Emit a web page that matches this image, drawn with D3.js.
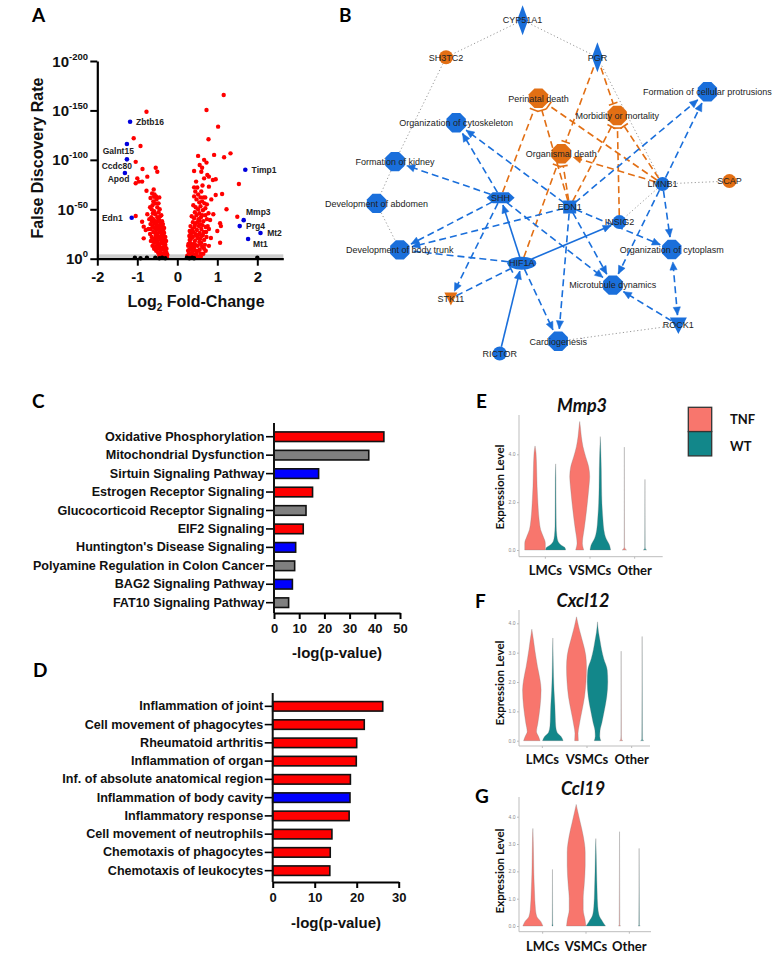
<!DOCTYPE html>
<html><head><meta charset="utf-8">
<script src="https://cdn.jsdelivr.net/npm/d3@7"></script>
<style>body{margin:0;background:#fff}</style>
</head><body><svg id="fig" width="780" height="959" xmlns="http://www.w3.org/2000/svg"></svg>
<script>
// ================= DATA =================
// Panel A: volcano (log2 fold-change, -log10 FDR)
const volcanoRed = [
[-0.77,148.7],[-1.09,121.8],[-0.92,114],[-1.04,98],[-0.87,90.8],[-0.54,92],[-0.50,88],[-0.75,83],[-1.00,81.3],[-0.96,78],[-1.04,76.3],[-0.88,78],[-0.77,68.8],[-0.67,61.4],[-0.58,62.7],[-1.04,43.2],[-0.88,37.4],[-0.84,32.4],[-0.79,29],[-0.84,20.6],[-0.72,30],[-0.70,40],[-0.75,45],[-0.68,52],
[-0.60,58],[-0.55,56],[-0.62,54],[-0.52,60],[-0.57,65],
[-0.64,50],[-0.58,48],[-0.50,52],[-0.47,47],[-0.55,45],[-0.61,46],[-0.44,50],
[-0.65,42],[-0.60,40],[-0.55,38],[-0.50,42],[-0.46,40],[-0.42,37],[-0.58,36],[-0.40,44],[-0.52,35],[-0.45,34],
[-0.66,30],[-0.62,33],[-0.57,31],[-0.52,29],[-0.48,32],[-0.44,27],[-0.40,30],[-0.37,33],[-0.55,26],[-0.60,27],[-0.35,28],[-0.50,25],
[-0.64,22],[-0.58,20],[-0.54,23],[-0.50,18],[-0.46,22],[-0.42,19],[-0.38,24],[-0.34,21],[-0.31,17],[-0.56,16],[-0.47,15],[-0.40,16],[-0.36,15],[-0.60,17],
[-0.55,12],[-0.50,10],[-0.45,13],[-0.42,8],[-0.38,11],[-0.35,9],[-0.32,12],[-0.29,7],[-0.48,6],[-0.40,5],[-0.33,5],[-0.27,10],[-0.30,14],[-0.44,11],
[-0.45,3],[-0.40,2],[-0.36,3],[-0.32,2],[-0.28,3],[-0.26,1.5],[-0.34,1],[-0.38,4],
[-0.44,30],[-0.41,26],[-0.38,28],[-0.36,24],[-0.33,26],[-0.30,22],[-0.28,18],[-0.43,22],[-0.39,20],[-0.35,18],[-0.31,14],[-0.29,11],[-0.27,6],[-0.25,4],[-0.52,20],[-0.49,14],[-0.53,8],[-0.58,10],[-0.62,13],[-0.66,18],[-0.68,25],[-0.48,38],[-0.43,43],[-0.38,38],[-0.36,35],[-0.33,31],[-0.41,34],[-0.54,32],[-0.63,38],[-0.67,35],[-0.47,56],[-0.53,63],[-0.59,70],[-0.63,66],[-0.45,62],
[1.16,165.6],[0.73,150.4],[1.02,133.6],[0.78,120.8],[1.33,106.6],[1.17,102.6],[0.92,105],[0.52,104],[0.67,100],[0.73,97.2],[0.56,94.8],[0.42,88.7],[0.75,84.7],[0.79,83],[0.67,81.3],[0.96,80.3],[0.89,79.6],[1.54,75.6],[0.42,72.2],[0.79,72.9],[1.12,65.5],[0.96,64.5],[0.70,62],[1.23,50],[1.50,42.5],[1.07,35.8],[1.09,33],[0.82,39.2],[0.79,30],[0.84,21],[0.79,13],[1.07,16.2],[0.62,92],[0.60,88],[0.85,60],[0.90,45],[1.00,28],
[0.45,68],[0.52,65],[0.58,62],[0.48,60],[0.62,58],[0.55,57],[0.42,63],
[0.40,54],[0.46,52],[0.52,50],[0.58,53],[0.64,49],[0.70,51],[0.44,47],[0.55,46],
[0.36,43],[0.42,41],[0.48,44],[0.53,40],[0.59,42],[0.65,38],[0.70,44],[0.39,37],[0.47,36],[0.57,35],[0.74,40],
[0.33,33],[0.38,30],[0.43,32],[0.49,29],[0.54,33],[0.60,30],[0.66,27],[0.71,32],[0.35,26],[0.45,25],[0.56,26],[0.63,34],
[0.30,23],[0.34,20],[0.39,22],[0.44,18],[0.50,21],[0.55,17],[0.61,23],[0.67,19],[0.32,16],[0.41,15],[0.47,24],[0.58,15],[0.73,22],
[0.27,13],[0.30,9],[0.34,12],[0.38,7],[0.42,11],[0.46,8],[0.51,13],[0.56,9],[0.62,12],[0.29,5],[0.36,5],[0.48,5],[0.67,10],
[0.25,3],[0.28,2],[0.31,3],[0.35,1.5],[0.39,3],[0.43,2],[0.47,3],[0.53,2],[0.26,1],
[0.28,15],[0.31,19],[0.33,25],[0.37,14],[0.40,27],[0.44,34],[0.50,37],[0.53,24],[0.57,20],[0.60,16],[0.64,24],[0.69,14],[0.72,27],[0.76,33],[0.78,46],[0.68,56],[0.60,68],[0.50,72],[0.47,78],[0.63,74],[0.36,9],[0.40,4],[0.45,14],[0.52,8],[0.58,5],[0.65,5],[0.71,8],[0.31,28],[0.27,8],[0.55,39],[0.62,44],[0.66,62],[0.74,55],[0.59,2]
];
const volcanoBlueGenes = ["Zbtb16","Galnt15","Ccdc80","Apod","Edn1","Timp1","Mmp3","Prg4","Mt2","Mt1"];
const volcanoBlueFC   = [-1.18,-1.26,-1.26,-1.31,-1.14,1.70,1.66,1.56,2.08,1.77];
const volcanoBlueFDR  = [138.6,116,100.5,86.7,41.5,90,39,33,26,20];
const volcanoBlack = [[-1.06,1],[-0.92,0.5],[-0.76,1],[-0.55,1],[-0.45,0.5],[-0.38,1],[-0.30,0.5],[0.24,1],[0.30,0.5],[0.37,1],[0.42,0.5],[2.0,1]];
const volcanoYTicks = [0,50,100,150,200];
const volcanoXTicks = [-2,-1,0,1,2];

// Panel B: network (layout units 0-100)
const netNodes = [
 ["CYP51A1","CYP51A1","diamond","b",41.5,5.6],
 ["SH3TC2","SH3TC2","circle","o",24.1,15.9],
 ["PGR","PGR","diamond","b",58.5,15.9],
 ["Perinatal","Perinatal death","oct","o",45.1,27.3],
 ["Morbidity","Morbidity or mortality","oct","o",63.0,32.1],
 ["Organismal","Organismal death","oct","o",50.3,42.7],
 ["FormProt","Formation of cellular protrusions","oct","b",83.5,25.5],
 ["OrgCyto","Organization of cytoskeleton","oct","b",26.4,34.1],
 ["FormKid","Formation of kidney","oct","b",12.5,44.9],
 ["DevAbd","Development of abdomen","oct","b",8.3,56.5],
 ["DevTrunk","Development of body trunk","oct","b",13.6,69.4],
 ["SHH","SHH","hex","b",36.5,54.9],
 ["EDN1","EDN1","square","b",52.2,57.5],
 ["INSIG2","INSIG2","circle","b",63.5,61.7],
 ["LMNB1","LMNB1","circle","b",73.3,51.1],
 ["SCAP","SCAP","circle","o",88.5,50.3],
 ["OrgCytoplasm","Organization of cytoplasm","oct","b",75.4,69.3],
 ["HIF1A","HIF1A","ellipse","b",41.3,73.1],
 ["Micro","Microtubule dynamics","oct","b",62.0,79.2],
 ["STK11","STK11","tri","o",25.2,82.9],
 ["ROCK1","ROCK1","tribig","b",76.9,90.3],
 ["Cardio","Cardiogenesis","oct","b",49.6,94.8],
 ["RICTOR","RICTOR","circle","b",36.3,98.2]
];
const netEdges = [
 ["CYP51A1","SH3TC2","dot","none"],["CYP51A1","PGR","dot","none"],["SH3TC2","FormKid","dot","none"],
 ["FormKid","DevAbd","dot","none"],["DevAbd","DevTrunk","dot","none"],["PGR","LMNB1","dot","none"],
 ["LMNB1","SCAP","dot","none"],["LMNB1","INSIG2","dot","none"],["ROCK1","Cardio","dot","none"],
 ["PGR","Morbidity","orange","bar"],["PGR","Organismal","orange","bar"],["SHH","Perinatal","orange","bar"],
 ["EDN1","Perinatal","orange","bar"],["EDN1","Organismal","orange","bar"],["EDN1","Morbidity","orange","bar"],
 ["HIF1A","Organismal","orange","bar"],["INSIG2","Morbidity","orange","bar"],["LMNB1","Perinatal","orange","bar"],
 ["LMNB1","Morbidity","orange","bar"],["LMNB1","Organismal","orange","arrow"],
 ["SHH","OrgCyto","dash","arrow"],["EDN1","OrgCyto","dash","arrow"],["SHH","FormKid","dash","arrow"],
 ["SHH","DevTrunk","dash","arrow"],["EDN1","DevTrunk","dash","arrow"],["HIF1A","DevTrunk","dash","none"],
 ["SHH","Micro","dash","arrow"],["SHH","STK11","dash","arrow"],["STK11","HIF1A","dash","bar"],
 ["HIF1A","Cardio","dash","arrow"],["EDN1","Cardio","dash","arrow"],["EDN1","Micro","dash","arrow"],
 ["EDN1","OrgCytoplasm","dash","arrow"],["EDN1","FormProt","dash","arrow"],["LMNB1","FormProt","dash","arrow"],
 ["LMNB1","OrgCytoplasm","dash","arrow"],["LMNB1","Micro","dash","arrow"],["ROCK1","Micro","dash","arrow"],
 ["ROCK1","OrgCytoplasm","dash","both"],
 ["HIF1A","SHH","solid","arrow"],["HIF1A","INSIG2","solid","arrow"],["RICTOR","HIF1A","solid","arrow"]
];

// Panel C: canonical pathways
const cCategories = ["Oxidative Phosphorylation","Mitochondrial Dysfunction","Sirtuin Signaling Pathway","Estrogen Receptor Signaling","Glucocorticoid Receptor Signaling","EIF2 Signaling","Huntington's Disease Signaling","Polyamine Regulation in Colon Cancer","BAG2 Signaling Pathway","FAT10 Signaling Pathway"];
const cValues = [43.6,37.6,17.7,15.3,12.7,11.6,8.6,8.2,7.3,5.8];
const cDirection = ["up","none","down","up","none","up","down","none","down","none"];
const cTicks = [0,10,20,30,40,50];

// Panel D: diseases & functions
const dCategories = ["Inflammation of joint","Cell movement of phagocytes","Rheumatoid arthritis","Inflammation of organ","Inf. of absolute anatomical region","Inflammation of body cavity","Inflammatory response","Cell movement of neutrophils","Chemotaxis of phagocytes","Chemotaxis of leukocytes"];
const dValues = [26.2,21.8,20.0,19.9,18.5,18.4,18.2,14.1,13.7,13.6];
const dDirection = ["up","up","up","up","up","down","up","up","up","up"];
const dTicks = [0,10,20,30];

// Panels E-G: violin plots (expression level, relative density)
const violinCells = ["LMCs","VSMCs","Other"];
const violinConditions = ["TNF","WT"];
const mmp3Violins = [
 {cell:"LMCs",cond:"TNF",prof:[[0,1.0],[0.28,1.0],[0.56,0.8],[0.84,0.55],[1.25,0.4],[1.95,0.28],[2.65,0.2],[3.34,0.16],[4.04,0.1],[4.35,0]]},
 {cell:"LMCs",cond:"WT",prof:[[0,0.97],[0.1,0.9],[0.2,0.55],[0.35,0.25],[0.6,0.12],[1.0,0.06],[2,0.04],[3,0.03],[3.6,0]]},
 {cell:"VSMCs",cond:"TNF",prof:[[0,0.39],[0.28,0.26],[0.5,0.3],[0.84,0.42],[1.25,0.55],[1.95,0.74],[2.65,0.9],[3.07,0.97],[3.48,0.87],[3.9,0.58],[4.32,0.32],[4.74,0.16],[5.16,0.06],[5.37,0]]},
 {cell:"VSMCs",cond:"WT",prof:[[0,1.0],[0.2,0.9],[0.49,0.55],[0.84,0.35],[1.25,0.26],[1.95,0.16],[2.65,0.12],[3.34,0.1],[4.04,0.06],[4.74,0]]},
 {cell:"Other",cond:"TNF",prof:[[0,0.2],[0.05,0.08],[0.15,0.02],[4.3,0]]},
 {cell:"Other",cond:"WT",prof:[[0,0.15],[0.05,0.05],[0.15,0.02],[2.95,0]]}
];
const cxcl12Violins = [
 {cell:"LMCs",cond:"TNF",prof:[[0,0.8],[0.14,0.65],[0.31,0.45],[0.59,0.58],[1.16,0.8],[1.73,0.9],[2.07,0.8],[2.52,0.55],[3.09,0.29],[3.43,0.16],[3.66,0.06],[3.8,0]]},
 {cell:"LMCs",cond:"WT",prof:[[0,1.0],[0.14,0.8],[0.28,0.42],[0.5,0.28],[0.8,0.24],[1.2,0.2],[1.7,0.12],[2.2,0.07],[2.9,0.03],[3.5,0]]},
 {cell:"VSMCs",cond:"TNF",prof:[[0,0.18],[0.25,0.15],[0.5,0.25],[1.0,0.52],[1.5,0.78],[2.0,0.92],[2.5,0.97],[2.9,0.9],[3.3,0.65],[3.6,0.42],[3.9,0.2],[4.22,0]]},
 {cell:"VSMCs",cond:"WT",prof:[[0,0.32],[0.15,0.22],[0.35,0.25],[0.6,0.42],[1.0,0.65],[1.5,0.9],[2.0,1.0],[2.4,0.95],[2.8,0.6],[3.1,0.4],[3.4,0.25],[3.7,0.1],[4.05,0]]},
 {cell:"Other",cond:"TNF",prof:[[0,0.15],[0.05,0.04],[0.2,0.02],[3.05,0]]},
 {cell:"Other",cond:"WT",prof:[[0,0.15],[0.05,0.04],[0.6,0.03],[3.55,0]]}
];
const ccl19Violins = [
 {cell:"LMCs",cond:"TNF",prof:[[0,1.0],[0.16,0.8],[0.34,0.4],[0.6,0.26],[1.3,0.16],[1.9,0.1],[2.5,0.07],[3.1,0.04],[3.57,0]]},
 {cell:"LMCs",cond:"WT",prof:[[0,0.05],[0.1,0.02],[2.07,0]]},
 {cell:"VSMCs",cond:"TNF",prof:[[0,0.97],[0.2,0.9],[0.6,0.7],[1.0,0.7],[1.5,0.8],[2.2,0.9],[2.7,0.9],[3.3,0.7],[3.8,0.4],[4.2,0.15],[4.45,0]]},
 {cell:"VSMCs",cond:"WT",prof:[[0,0.97],[0.15,0.7],[0.4,0.32],[0.7,0.2],[1.3,0.13],[2.0,0.08],[2.7,0.04],[3.2,0]]},
 {cell:"Other",cond:"TNF",prof:[[0,0.1],[0.05,0.03],[3.45,0]]},
 {cell:"Other",cond:"WT",prof:[[0,0.1],[0.05,0.03],[2.84,0]]}
];
const mmp3Ticks = [0,2,4];
const cxcl12Ticks = [0,1,2,3,4];
const ccl19Ticks = [0,1,2,3,4];

// ================= DRAWING =================
const svg = d3.select("#fig");
const ARIAL = "'Liberation Sans', Arial, sans-serif";
const CAL = "Lato, 'Open Sans', sans-serif";

// panel letters
[["A",32,22],["B",339,22],["C",32,408],["D",33,677],["E",476,408],["F",475,608],["G",475,803]].forEach(([t,x,y])=>{
  svg.append("text").attr("x",x).attr("y",y).text(t).attr("font-family",CAL).attr("font-weight","bold").attr("font-size",19).attr("fill","#000");
});

// ---------- Panel A ----------
(function(){
  const ax = d3.scaleLinear().domain([-2, 2.65]).range([97.3, 283.3]);
  const ay = d3.scaleLinear().domain([0, 200]).range([258.7, 61]);
  const g = svg.append("g");
  g.append("rect").attr("x",ax(-2)).attr("width",ax(2.65)-ax(-2)).attr("y",ay(4.4)).attr("height",ay(0)-ay(4.4)).attr("fill","#cdcdcd");
  g.selectAll("circle.red").data(volcanoRed).join("circle").attr("class","red")
    .attr("cx",d=>ax(d[0])).attr("cy",d=>ay(d[1])).attr("r",2.2).attr("fill","#ff0000");
  g.selectAll("circle.blk").data(volcanoBlack).join("circle").attr("class","blk")
    .attr("cx",d=>ax(d[0])).attr("cy",d=>ay(d[1])).attr("r",2.2).attr("fill","#000");
  const blue = volcanoBlueGenes.map((n,i)=>({n, x:volcanoBlueFC[i], y:volcanoBlueFDR[i]}));
  g.selectAll("circle.blu").data(blue).join("circle").attr("class","blu")
    .attr("cx",d=>ax(d.x)).attr("cy",d=>ay(d.y)).attr("r",2.3).attr("fill","#0000dd");
  const lab = {Zbtb16:[6,3,"start"],Galnt15:[7,9.5,"end"],Ccdc80:[5,9.5,"end"],Apod:[4.5,9.5,"end"],Edn1:[-9,3,"end"],
               Timp1:[6.3,3,"start"],Mmp3:[2.3,-5.5,"start"],Prg4:[6.3,3,"start"],Mt2:[6.7,3,"start"],Mt1:[5,8.5,"start"]};
  g.selectAll("text.gl").data(blue).join("text").attr("class","gl")
    .attr("x",d=>ax(d.x)+lab[d.n][0]).attr("y",d=>ay(d.y)+lab[d.n][1]).attr("text-anchor",d=>lab[d.n][2])
    .text(d=>d.n).attr("font-family",ARIAL).attr("font-weight","bold").attr("font-size",8.5).attr("fill","#222");
  // y axis
  const ya = g.append("g").attr("transform",`translate(${ax(-2)},0)`)
    .call(d3.axisLeft(ay).tickValues(volcanoYTicks).tickSize(7).tickSizeOuter(0).tickFormat(""));
  ya.select(".domain").attr("stroke-width",2.2);
  ya.selectAll(".tick line").attr("stroke-width",2);
  volcanoYTicks.forEach(v=>{
    const t = g.append("text").attr("x",88).attr("y",ay(v)+5.5).attr("text-anchor","end")
      .attr("font-family",ARIAL).attr("font-weight","bold").attr("fill","#111");
    t.append("tspan").text("10").attr("font-size",15);
    t.append("tspan").text(v===0?"0":"-"+v).attr("font-size",9.5).attr("dy",-7);
  });
  // x axis
  const xa = g.append("g").attr("transform",`translate(0,${ay(0)})`)
    .call(d3.axisBottom(ax).tickValues(volcanoXTicks).tickFormat(d3.format("d")).tickSize(7).tickSizeOuter(0).tickPadding(6));
  xa.select(".domain").attr("stroke-width",2.2);
  xa.selectAll(".tick line").attr("stroke-width",2);
  xa.selectAll("text").attr("font-family",ARIAL).attr("font-weight","bold").attr("font-size",15).attr("fill","#111")
    .text(d=>d<0?"-"+Math.abs(d):String(d));
  // titles
  g.append("text").attr("transform","translate(43,158) rotate(-90)").attr("text-anchor","middle")
    .attr("font-family",ARIAL).attr("font-weight","bold").attr("font-size",16).attr("fill","#111").text("False Discovery Rate");
  const xt = g.append("text").attr("x",196).attr("y",307).attr("text-anchor","middle")
    .attr("font-family",ARIAL).attr("font-weight","bold").attr("font-size",16).attr("fill","#111");
  xt.append("tspan").text("Log");
  xt.append("tspan").text("2").attr("font-size",10).attr("dy",4);
  xt.append("tspan").text(" Fold-Change").attr("dy",-4);
})();

// ---------- Panel B ----------
(function(){
  const nx = d3.scaleLinear().domain([0,100]).range([340,780]);
  const ny = d3.scaleLinear().domain([0,100]).range([0,360]);
  const BLUE = "#1a6fdb", ORANGE = "#e26f14";
  const g = svg.append("g");
  const defs = svg.append("defs");
  function mk(id, path, color, fill){
    defs.append("marker").attr("id",id).attr("viewBox","-10 -6 12 12").attr("refX",0).attr("refY",0)
      .attr("markerWidth",12).attr("markerHeight",12).attr("markerUnits","userSpaceOnUse").attr("orient","auto-start-reverse")
      .append("path").attr("d",path).attr("fill",fill?color:"none").attr("stroke",color).attr("stroke-width",fill?0.5:1.6);
  }
  mk("arrB","M-8,-3.6L0,0L-8,3.6Z",BLUE,true);
  mk("arrO","M-8,-3.6L0,0L-8,3.6Z",ORANGE,true);
  mk("barB","M0,-4.5L0,4.5",BLUE,false);
  mk("barO","M0,-4.5L0,4.5",ORANGE,false);
  const dims = {oct:[10.5,10.5],circle:[7,7],diamond:[5.5,14],square:[6.5,6.5],hex:[13,5.5],ellipse:[14,6],tri:[6,6],tribig:[8,8]};
  const N = {};
  netNodes.forEach(n=>{N[n[0]] = {id:n[0],label:n[1],shape:n[2],tone:n[3],x:nx(n[4]),y:ny(n[5])};});
  function bound(n, ux, uy){ const [rx,ry]=dims[n.shape]; return 1/Math.sqrt((ux/rx)**2+(uy/ry)**2); }
  netEdges.forEach(([s,t,kind,end])=>{
    const a=N[s], b=N[t];
    const dx=b.x-a.x, dy=b.y-a.y, L=Math.hypot(dx,dy), ux=dx/L, uy=dy/L;
    const gap = end==="none"?0:2;
    const x1=a.x+ux*(bound(a,ux,uy)+(end==="both"?2:0)), y1=a.y+uy*(bound(a,ux,uy)+(end==="both"?2:0));
    const x2=b.x-ux*(bound(b,-ux,-uy)+gap), y2=b.y-uy*(bound(b,-ux,-uy)+gap);
    const ln = g.append("line").attr("x1",x1).attr("y1",y1).attr("x2",x2).attr("y2",y2).attr("fill","none");
    if(kind==="dot") ln.attr("stroke","#9a9a9a").attr("stroke-width",1).attr("stroke-dasharray","1.2,2.4");
    else if(kind==="orange") ln.attr("stroke",ORANGE).attr("stroke-width",1.6).attr("stroke-dasharray","7,4");
    else if(kind==="dash") ln.attr("stroke",BLUE).attr("stroke-width",1.6).attr("stroke-dasharray","7,4");
    else ln.attr("stroke",BLUE).attr("stroke-width",1.6);
    const col = kind==="orange"?"O":"B";
    if(end==="arrow"||end==="both") ln.attr("marker-end",`url(#arr${col})`);
    if(end==="bar") ln.attr("marker-end",`url(#bar${col})`);
    if(end==="both") ln.attr("marker-start",`url(#arr${col})`);
  });
  Object.values(N).forEach(n=>{
    const c = n.tone==="o"?ORANGE:BLUE;
    let el;
    if(n.shape==="oct"){
      const r=10.5, pts=d3.range(8).map(k=>{const a=Math.PI/8+k*Math.PI/4; return [n.x+r*Math.cos(a), n.y+r*Math.sin(a)];});
      el=g.append("polygon").attr("points",pts.map(p=>p.join(",")).join(" "));
    } else if(n.shape==="circle"){ el=g.append("circle").attr("cx",n.x).attr("cy",n.y).attr("r",7); }
    else if(n.shape==="diamond"){ el=g.append("polygon").attr("points",`${n.x},${n.y-15} ${n.x+5.5},${n.y} ${n.x},${n.y+15} ${n.x-5.5},${n.y}`); }
    else if(n.shape==="square"){ el=g.append("rect").attr("x",n.x-6.5).attr("y",n.y-6.5).attr("width",13).attr("height",13); }
    else if(n.shape==="hex"){ el=g.append("polygon").attr("points",`${n.x-14},${n.y} ${n.x-8},${n.y-5.5} ${n.x+8},${n.y-5.5} ${n.x+14},${n.y} ${n.x+8},${n.y+5.5} ${n.x-8},${n.y+5.5}`); }
    else if(n.shape==="ellipse"){ el=g.append("ellipse").attr("cx",n.x).attr("cy",n.y).attr("rx",14.5).attr("ry",6.5); }
    else if(n.shape==="tri"){ el=g.append("polygon").attr("points",`${n.x-6.5},${n.y-6} ${n.x+6.5},${n.y-6} ${n.x},${n.y+7}`); }
    else { el=g.append("polygon").attr("points",`${n.x-8.5},${n.y-7.5} ${n.x+8.5},${n.y-7.5} ${n.x},${n.y+9}`); }
    el.attr("fill",c);
  });
  Object.values(N).forEach(n=>{
    g.append("text").attr("x",n.x).attr("y",n.y+3.3).attr("text-anchor","middle").text(n.label)
      .attr("font-family",ARIAL).attr("font-size",9).attr("fill","#222");
  });
})();

// ---------- Panels C & D ----------
const barColors = {up:"#ff0000", down:"#0000ff", none:"#808080"};
function barPanel(cats, vals, dirs, ticks, cfg){
  const g = svg.append("g");
  const x = d3.scaleLinear().domain([0,ticks[ticks.length-1]]).range([cfg.x0, cfg.x1]);
  const y = d3.scaleBand().domain(cats).range([cfg.y0, cfg.y1]);
  const bw = y.bandwidth();
  g.selectAll("rect").data(cats).join("rect")
    .attr("x",x(0)).attr("y",d=>y(d)+bw*0.24).attr("height",bw*0.52)
    .attr("width",(d,i)=>x(vals[i])-x(0)).attr("fill",(d,i)=>barColors[dirs[i]])
    .attr("stroke","#111").attr("stroke-width",1.6);
  const la = g.append("g").attr("transform",`translate(${x(0)},0)`).call(d3.axisLeft(y).tickSize(8).tickPadding(1.5));
  la.select(".domain").remove();
  la.selectAll(".tick line").attr("stroke-width",1.6);
  la.selectAll("text").attr("font-family",ARIAL).attr("font-weight","bold").attr("font-size",12.6).attr("fill","#111");
  g.append("line").attr("x1",x(0)).attr("x2",x(0)).attr("y1",cfg.axTop).attr("y2",cfg.axBot).attr("stroke","#111").attr("stroke-width",2);
  const ba = g.append("g").attr("transform",`translate(0,${cfg.axBot})`).call(d3.axisBottom(x).tickValues(ticks).tickSize(6).tickSizeOuter(0).tickPadding(5));
  ba.select(".domain").attr("stroke-width",2);
  ba.selectAll(".tick line").attr("stroke-width",2);
  ba.selectAll("text").attr("font-family",ARIAL).attr("font-weight","bold").attr("font-size",13).attr("fill","#111");
  g.append("text").attr("x",cfg.titleX).attr("y",cfg.titleY).attr("text-anchor","middle").text("-log(p-value)")
    .attr("font-family",ARIAL).attr("font-weight","bold").attr("font-size",15).attr("fill","#111");
}
barPanel(cCategories,cValues,cDirection,cTicks,{x0:274,x1:400,y0:427.5,y1:611.9,axTop:423,axBot:613,titleX:337,titleY:658});
barPanel(dCategories,dValues,dDirection,dTicks,{x0:272.7,x1:398.7,y0:697.2,y1:879.8,axTop:693,axBot:882,titleX:336,titleY:928});

// ---------- Panels E, F, G ----------
const condColor = {TNF:"#f8766d", WT:"#12878a"};
function violinPanel(title, violins, ticks, cfg){
  const g = svg.append("g");
  const ys = d3.scaleLinear().domain([0,4]).range(cfg.y04);
  const xb = d3.scaleBand().domain(violinCells).range(cfg.xr);
  const xs = d3.scalePoint().domain(violinConditions).range([-cfg.off, cfg.off]);
  const ws = d3.scaleLinear().domain([0,1]).range([0,cfg.hw]);
  g.append("line").attr("x1",519).attr("x2",519).attr("y1",cfg.axTop).attr("y2",cfg.axBot).attr("stroke","#bdbdbd").attr("stroke-width",1);
  g.append("line").attr("x1",519).attr("x2",cfg.xEnd).attr("y1",cfg.axBot).attr("y2",cfg.axBot).attr("stroke","#bdbdbd").attr("stroke-width",1);
  const ya = g.append("g").attr("transform","translate(519,0)").call(d3.axisLeft(ys).tickValues(ticks).tickSize(2).tickPadding(1.5));
  ya.select(".domain").remove();
  ya.selectAll(".tick line").attr("stroke","#bbb");
  ya.selectAll("text").attr("font-family",ARIAL).attr("font-size",5).attr("fill","#888");
  const xa = g.append("g").attr("transform",`translate(0,${cfg.axBot})`).call(d3.axisBottom(xb).tickSize(2).tickPadding(cfg.labPad));
  xa.select(".domain").remove();
  xa.selectAll(".tick line").attr("stroke","#bbb");
  xa.selectAll("text").attr("font-family",CAL).attr("font-weight","bold").attr("font-size",13).attr("fill","#111");
  violins.forEach(v=>{
    const c = xb(v.cell)+xb.bandwidth()/2+xs(v.cond);
    const area = d3.area().y(d=>ys(d[0])).x0(d=>c-ws(d[1])).x1(d=>c+ws(d[1])).curve(d3.curveMonotoneY);
    g.append("path").attr("d",area(v.prof)).attr("fill",condColor[v.cond])
      .attr("stroke", v.cell==="Other"?"#aaa":"#777").attr("stroke-width",v.cell==="Other"?0.7:0.4).attr("stroke-opacity",0.7);
  });
  g.append("text").attr("x",cfg.titleX).attr("y",cfg.titleY).attr("text-anchor","middle").text(title)
    .attr("font-family",CAL).attr("font-weight","bold").attr("font-style","italic").attr("font-size",18).attr("fill","#111");
  g.append("text").attr("transform",`translate(504,${cfg.ylabY}) rotate(-90)`).attr("text-anchor","middle").text("Expression Level")
    .attr("font-family",CAL).attr("font-weight","bold").attr("font-size",11.5).attr("fill","#111");
}
violinPanel("Mmp3", mmp3Violins, mmp3Ticks, {y04:[550,454.3],xr:[523,657],off:10.3,hw:10.3,axTop:415,axBot:556.7,xEnd:662.7,labPad:7,titleX:582,titleY:412,ylabY:487});
violinPanel("Cxcl12", cxcl12Violins, cxcl12Ticks, {y04:[740.7,623.3],xr:[520,654],off:10.5,hw:10.3,axTop:610,axBot:746,xEnd:650,labPad:7,titleX:583,titleY:607,ylabY:683});
violinPanel("Ccl19", ccl19Violins, ccl19Ticks, {y04:[926,816.7],xr:[521,651],off:9.8,hw:10,axTop:797,axBot:931.7,xEnd:651,labPad:8,titleX:583,titleY:795,ylabY:871});

// legend
(function(){
  const g = svg.append("g");
  violinConditions.forEach((c,i)=>{
    g.append("rect").attr("x",688.3).attr("y",407.3+i*24.3).attr("width",23.4).attr("height",24.3)
      .attr("fill",condColor[c]).attr("stroke","#333").attr("stroke-width",1.3);
    g.append("text").attr("x",730).attr("y",424+i*27).text(c)
      .attr("font-family",CAL).attr("font-weight","bold").attr("font-size",13).attr("fill","#111");
  });
})();
</script>
</body></html>
